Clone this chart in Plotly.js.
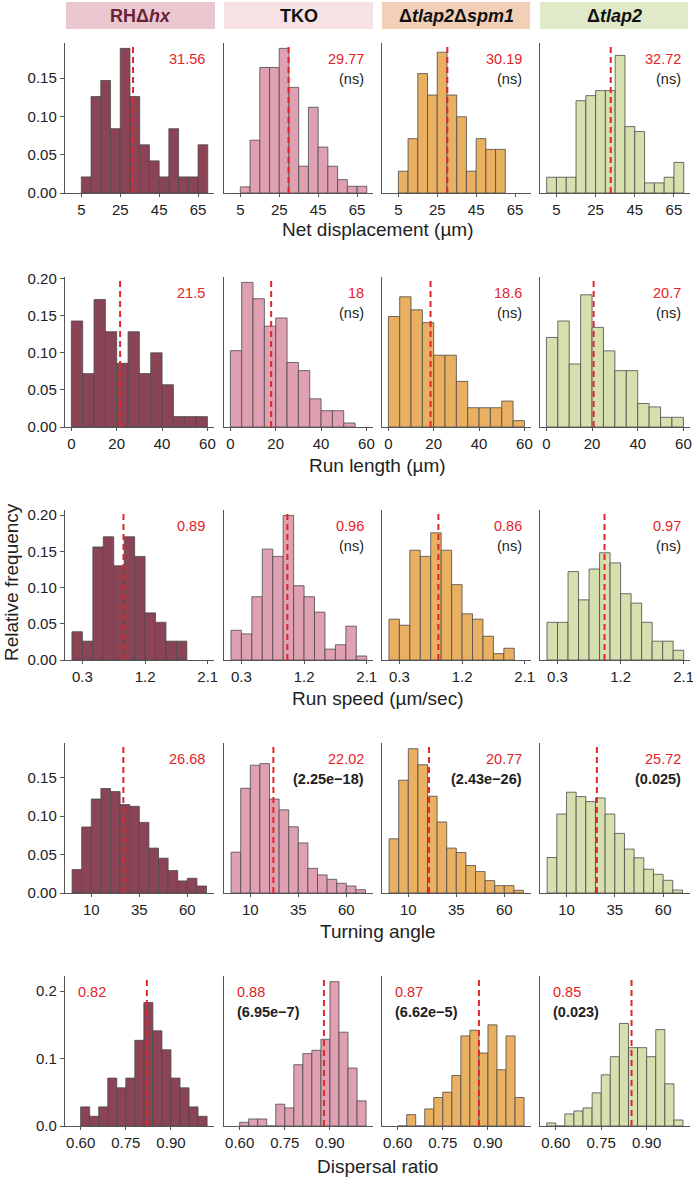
<!DOCTYPE html>
<html>
<head>
<meta charset="utf-8">
<script src="https://cdn.plot.ly/plotly-3.0.1.min.js"></script>
<style>
  html, body { margin: 0; padding: 0; background: #fff; }
  #fig { width: 693px; height: 1179px; }
</style>
</head>
<body>
<div id="fig"></div>
<script>
/* histogrammes de fréquence relative : 5 mesures x 4 souches */

var strains = ['RHΔ<i>hx</i>', 'TKO', 'Δ<i>tlap2</i>Δ<i>spm1</i>', 'Δ<i>tlap2</i>'];

/* ---- déplacement net ---- */
var netRH  = [0.021, 0.126, 0.147, 0.084, 0.189, 0.126, 0.063, 0.042, 0.021, 0.084, 0.021, 0.021, 0.063];
var netTKO = [0.008, 0.069, 0.164, 0.164, 0.189, 0.138, 0.035, 0.112, 0.060, 0.035, 0.0175, 0.0088, 0.0088];
var netDS  = [0.0285, 0.071, 0.156, 0.128, 0.184, 0.128, 0.0996, 0.0285, 0.071, 0.057, 0.057];
var netT2  = [0.0206, 0.0206, 0.0206, 0.1206, 0.1272, 0.1338, 0.1338, 0.1798, 0.0868, 0.0803, 0.0132, 0.0132, 0.0206, 0.040];
var netStart = [5, 5, 5, 0], netStep = 5;
var netMeans = ['31.56', '29.77', '30.19', '32.72'];
var netP = ['', 'ns', 'ns', 'ns'];

/* ---- longueur de course ---- */
var runRH  = [0.143, 0.072, 0.172, 0.1285, 0.086, 0.1285, 0.072, 0.100, 0.057, 0.014, 0.014, 0.014];
var runTKO = [0.103, 0.195, 0.173, 0.136, 0.147, 0.087, 0.076, 0.038, 0.022, 0.022, 0.0054];
var runDS  = [0.149, 0.1756, 0.158, 0.1407, 0.0968, 0.0968, 0.0615, 0.026, 0.026, 0.026, 0.035, 0.0086];
var runT2  = [0.1208, 0.143, 0.085, 0.1783, 0.1344, 0.1027, 0.076, 0.076, 0.0317, 0.0271, 0.0131, 0.0131];
var runStart = [0, 0, 0, 0], runStep = 5;
var runMeans = ['21.5', '18', '18.6', '20.7'];
var runP = ['', 'ns', 'ns', 'ns'];

/* ---- vitesse ---- */
var speedRH  = [0.039, 0.026, 0.156, 0.17, 0.13, 0.17, 0.143, 0.065, 0.052, 0.026, 0.026];
var speedTKO = [0.041, 0.036, 0.0873, 0.153, 0.143, 0.1995, 0.1025, 0.0873, 0.066, 0.015, 0.021, 0.0467, 0.0055];
var speedDS  = [0.0564, 0.048, 0.1515, 0.143, 0.1755, 0.1515, 0.104, 0.0637, 0.0564, 0.0328, 0.0088, 0.0162];
var speedT2  = [0.052, 0.052, 0.122, 0.083, 0.1256, 0.148, 0.134, 0.0915, 0.0785, 0.052, 0.026, 0.026, 0.0134];
var speedStart = [0.15, 0.15, 0.15, 0.15], speedStep = 0.15;
var speedMeans = ['0.89', '0.96', '0.86', '0.97'];
var speedP = ['', 'ns', 'ns', 'ns'];

/* ---- angle de virage ---- */
var turnRH  = [0.0304, 0.0857, 0.122, 0.1357, 0.1317, 0.1148, 0.1126, 0.0917, 0.0583, 0.0452, 0.0291, 0.0157, 0.0191, 0.0091];
var turnTKO = [0.053, 0.136, 0.166, 0.168, 0.122, 0.108, 0.086, 0.065, 0.032, 0.0235, 0.0178, 0.0126, 0.0091, 0.0043];
var turnDS  = [0.0704, 0.1465, 0.1874, 0.1665, 0.1257, 0.0922, 0.0583, 0.0526, 0.0357, 0.0278, 0.0161, 0.0096, 0.0096, 0.0035];
var turnT2  = [0.0461, 0.1026, 0.1309, 0.1252, 0.1187, 0.1235, 0.1026, 0.0774, 0.057, 0.0457, 0.0309, 0.0243, 0.0165, 0.0039];
var turnStart = [0, 0, 0, 0], turnStep = 5;
var turnMeans = ['26.68', '22.02', '20.77', '25.72'];
var turnP = ['', '2.25e−18', '2.43e−26', '0.025'];

/* ---- ratio de dispersion ---- */
var dispRH  = [0.0283, 0.0144, 0.0283, 0.071, 0.0566, 0.071, 0.127, 0.183, 0.141, 0.113, 0.071, 0.0566, 0.0283, 0.0144];
var dispTKO = [0.0055, 0.0104, 0.0104, 0, 0.0323, 0.0268, 0.0908, 0.1072, 0.1122, 0.1285, 0.2139, 0.139, 0.0859, 0.0372];
var dispDS  = [0, 0.0169, 0, 0.0253, 0.0422, 0.0501, 0.0749, 0.1335, 0.1419, 0.1082, 0.1499, 0.0834, 0.1335, 0.0422];
var dispT2  = [0.0045, 0, 0.0179, 0.0223, 0.0268, 0.0491, 0.0759, 0.1027, 0.1519, 0.1161, 0.1161, 0.1027, 0.1429, 0.0625, 0.0089];
var dispStart = [0.60, 0.60, 0.60, 0.57], dispStep = 0.03;
var dispMeans = ['0.82', '0.88', '0.87', '0.85'];
var dispP = ['', '6.95e−7', '6.62e−5', '0.023'];

(function () {
  'use strict';
  var W = 693, H = 1179;
  var FONT = 'Liberation Sans, Arial, sans-serif';
  var RED = '#e3242b';
  var fills = ['#8a4456', '#dfa0b1', '#e8b060', '#d6e0ae'];
  var heads = ['#ebc8cf', '#f6e1e5', '#f2d0b8', '#e0eac8'];
  var headTxt = ['#6b2338', '#111', '#111', '#111'];

  function px(x) { return x / W; }
  function py(y) { return 1 - y / H; }

  var cols = [[65, 214], [224, 373], [382, 531], [540, 690]];
  var headX = [[66, 215], [224, 373], [382, 530], [540, 688]];

  var rows = [
    { vals: [netRH, netTKO, netDS, netT2], start: netStart, step: netStep, means: netMeans, p: netP,
      title: 'Net displacement (µm)', top: 43, titleY: 230, xr: [-3.4, 73.2], yr: [0, 0.196],
      xt: [5, 25, 45, 65], yt: [0, 0.05, 0.10, 0.15], yf: '.2f', left: false },
    { vals: [runRH, runTKO, runDS, runT2], start: runStart, step: runStep, means: runMeans, p: runP,
      title: 'Run length (µm)', top: 277, titleY: 465, xr: [-2.8, 62.9], yr: [0, 0.2023],
      xt: [0, 20, 40, 60], yt: [0, 0.05, 0.10, 0.15, 0.20], yf: '.2f', left: false },
    { vals: [speedRH, speedTKO, speedDS, speedT2], start: speedStart, step: speedStep, means: speedMeans, p: speedP,
      title: 'Run speed (µm/sec)', top: 510, titleY: 698, xr: [0.05, 2.19], yr: [0, 0.207],
      xt: [0.3, 1.2, 2.1], yt: [0, 0.05, 0.10, 0.15, 0.20], yf: '.2f', left: false },
    { vals: [turnRH, turnTKO, turnDS, turnT2], start: turnStart, step: turnStep, means: turnMeans, p: turnP,
      title: 'Turning angle', top: 743, titleY: 931, xr: [-3.7, 73.9], yr: [0, 0.1948],
      xt: [10, 35, 60], yt: [0, 0.05, 0.10, 0.15], yf: '.2f', left: false },
    { vals: [dispRH, dispTKO, dispDS, dispT2], start: dispStart, step: dispStep, means: dispMeans, p: dispP,
      title: 'Dispersal ratio', top: 976, titleY: 1166, xr: [0.548, 1.043], yr: [0, 0.2223],
      xt: [0.60, 0.75, 0.90], yt: [0, 0.1, 0.2], yf: '.1f', left: true }
  ];
  var PH = 150;

  var traces = [], shapes = [], annotations = [];
  var layout = {
    width: W, height: H,
    margin: { l: 0, r: 0, t: 0, b: 0 },
    paper_bgcolor: '#fff', plot_bgcolor: 'rgba(0,0,0,0)',
    showlegend: false,
    font: { family: FONT, size: 15, color: '#222' },
    bargap: 0
  };

  rows.forEach(function (row, r) {
    for (var c = 0; c < 4; c++) {
      var k = r * 4 + c + 1;
      var xa = 'x' + (k === 1 ? '' : k), ya = 'y' + (k === 1 ? '' : k);
      var vals = row.vals[c], xs = [];
      for (var i = 0; i < vals.length; i++) xs.push(row.start[c] + row.step * (i + 0.5));

      traces.push({
        type: 'bar', x: xs, y: vals, width: row.step,
        xaxis: xa, yaxis: ya,
        marker: { color: fills[c], line: { color: '#4a4a4a', width: 0.8 } },
        hoverinfo: 'skip'
      });

      layout['xaxis' + (k === 1 ? '' : k)] = {
        domain: [px(cols[c][0]), px(cols[c][1])], anchor: ya,
        range: row.xr, tickvals: row.xt, ticktext: row.xt.map(function (v) { return r === 4 ? v.toFixed(2) : String(v); }),
        showline: true, linecolor: '#555', linewidth: 1.2, ticks: 'outside', ticklen: 3, tickcolor: '#555',
        ticklabeloverflow: 'allow',
        showgrid: false, zeroline: false, fixedrange: true,
        tickfont: { family: FONT, size: 15, color: '#222' }
      };
      layout['yaxis' + (k === 1 ? '' : k)] = {
        domain: [py(row.top + PH), py(row.top)], anchor: xa,
        range: row.yr, tickvals: row.yt, tickformat: row.yf,
        showticklabels: c === 0, ticks: c === 0 ? 'outside' : '', ticklen: 4, tickcolor: '#555',
        showline: true, linecolor: '#555', linewidth: 1.2,
        showgrid: false, zeroline: false, fixedrange: true,
        tickfont: { family: FONT, size: 15, color: '#222' }
      };

      /* moyenne */
      var m = parseFloat(row.means[c]);
      shapes.push({
        type: 'line', xref: xa, yref: ya + ' domain', x0: m, x1: m, y0: 0, y1: 1,
        line: { color: RED, width: 2, dash: '6px,4px' }, layer: 'above'
      });

      var ax = row.left ? 0 : 1, anc = row.left ? 'left' : 'right', sh = row.left ? 11 : -7;
      annotations.push({
        xref: xa + ' domain', yref: ya + ' domain', x: ax, y: 1, xanchor: anc, yanchor: 'middle',
        xshift: sh, yshift: -16, showarrow: false, text: row.means[c],
        font: { family: FONT, size: 14.5, color: RED }
      });
      if (row.p[c]) {
        var t = row.p[c] === 'ns' ? '(ns)' : '<b>(' + row.p[c] + ')</b>';
        annotations.push({
          xref: xa + ' domain', yref: ya + ' domain', x: ax, y: 1, xanchor: anc, yanchor: 'middle',
          xshift: sh, yshift: -36, showarrow: false, text: t,
          font: { family: FONT, size: 14.5, color: '#222' }
        });
      }
    }
    annotations.push({
      xref: 'paper', yref: 'paper', x: px(377.5), y: py(row.titleY), xanchor: 'center', yanchor: 'middle',
      showarrow: false, text: row.title, font: { family: FONT, size: 19, color: '#222' }
    });
  });

  /* bandeaux des souches */
  strains.forEach(function (s, c) {
    shapes.push({
      type: 'rect', xref: 'paper', yref: 'paper',
      x0: px(headX[c][0]), x1: px(headX[c][1]), y0: py(29), y1: py(2),
      fillcolor: heads[c], line: { width: 0 }, layer: 'below'
    });
    annotations.push({
      xref: 'paper', yref: 'paper', x: px((headX[c][0] + headX[c][1]) / 2), y: py(16),
      xanchor: 'center', yanchor: 'middle', showarrow: false, text: '<b>' + s + '</b>',
      font: { family: FONT, size: 18, color: headTxt[c] }
    });
  });

  annotations.push({
    xref: 'paper', yref: 'paper', x: px(11), y: py(582), xanchor: 'center', yanchor: 'middle',
    textangle: -90, showarrow: false, text: 'Relative frequency',
    font: { family: FONT, size: 19, color: '#222' }
  });

  layout.shapes = shapes;
  layout.annotations = annotations;

  Plotly.newPlot('fig', traces, layout, { displayModeBar: false, staticPlot: true });
})();
</script>
</body>
</html>
